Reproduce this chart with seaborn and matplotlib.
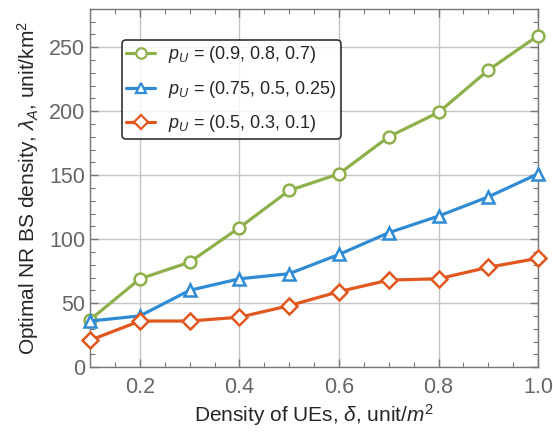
import numpy as np
import pandas as pd
import matplotlib.pyplot as plt
from matplotlib.ticker import MultipleLocator
import seaborn as sns

# density of UEs
delta = [0.1, 0.2, 0.3, 0.4, 0.5, 0.6, 0.7, 0.8, 0.9, 1.0]

# optimal NR BS density per p_U setting
lam_high = [37, 69, 82, 109, 138, 151, 180, 199, 232, 259]
lam_mid = [36, 40, 60, 69, 73, 88, 105, 118, 133, 151]
lam_low = [21, 36, 36, 39, 48, 59, 68, 69, 78, 85]

labels = ["$p_U$ = (0.9, 0.8, 0.7)",
          "$p_U$ = (0.75, 0.5, 0.25)",
          "$p_U$ = (0.5, 0.3, 0.1)"]
colors = ["#8DB04B", "#2F8BD3", "#E2571E"]
markers = ["o", "^", "D"]

sns.set_style("ticks")
plt.rcParams["font.family"] = ["Liberation Sans", "DejaVu Sans"]
plt.rcParams["mathtext.fontset"] = "custom"
plt.rcParams["mathtext.rm"] = "Liberation Sans"
plt.rcParams["mathtext.it"] = "Liberation Sans:italic"

df = pd.DataFrame({
    "delta": delta * 3,
    "lam": lam_high + lam_mid + lam_low,
    "setting": [labels[0]] * 10 + [labels[1]] * 10 + [labels[2]] * 10,
})

fig, ax = plt.subplots(figsize=(5.53, 4.36), dpi=100)
sns.lineplot(data=df, x="delta", y="lam", hue="setting", style="setting",
             palette=colors, markers=markers, dashes=False, linewidth=2.3,
             markersize=8.5, markerfacecolor="white", markeredgewidth=1.8,
             ax=ax, clip_on=False, zorder=3)
for ln, c in zip(ax.lines, colors):
    ln.set_markeredgecolor(c)

ax.set_xlim(0.1, 1.0)
ax.set_ylim(0, 280)
ax.xaxis.set_major_locator(MultipleLocator(0.2))
ax.xaxis.set_minor_locator(MultipleLocator(0.05))
ax.yaxis.set_major_locator(MultipleLocator(50))
ax.yaxis.set_minor_locator(MultipleLocator(10))
ax.tick_params(which="both", direction="in", top=True, right=True,
               colors="#777777", labelcolor="#666666", labelsize=15.5)
ax.tick_params(which="major", length=6, width=1)
ax.tick_params(which="minor", length=3.5, width=0.8)
ax.tick_params(axis="x", which="major", pad=7)
ax.grid(True, which="major", color="#c4c4c4", linewidth=1)
for s in ax.spines.values():
    s.set_color("#777777")
    s.set_linewidth(1)

ax.set_xlabel("Density of UEs, $\\delta$, unit/$m^2$", fontsize=15, labelpad=3)
ax.set_ylabel("Optimal NR BS density, $\\lambda_A$, unit/km$^2$", fontsize=15,
              labelpad=6)

leg = ax.legend(loc="upper left", bbox_to_anchor=(0.071, 0.913), fontsize=13,
                frameon=True, fancybox=True, edgecolor="black",
                handlelength=1.6, handletextpad=0.7, labelspacing=0.75,
                borderpad=0.25, borderaxespad=0)
leg.get_frame().set_linewidth(1.2)
for h, c in zip(leg.get_lines(), colors):
    h.set_markerfacecolor("white")
    h.set_markeredgecolor(c)
    h.set_markeredgewidth(1.6)
    h.set_markersize(7.5)

fig.subplots_adjust(left=0.163, right=0.973, bottom=0.158, top=0.98)
fig.savefig("out.png", dpi=100)
